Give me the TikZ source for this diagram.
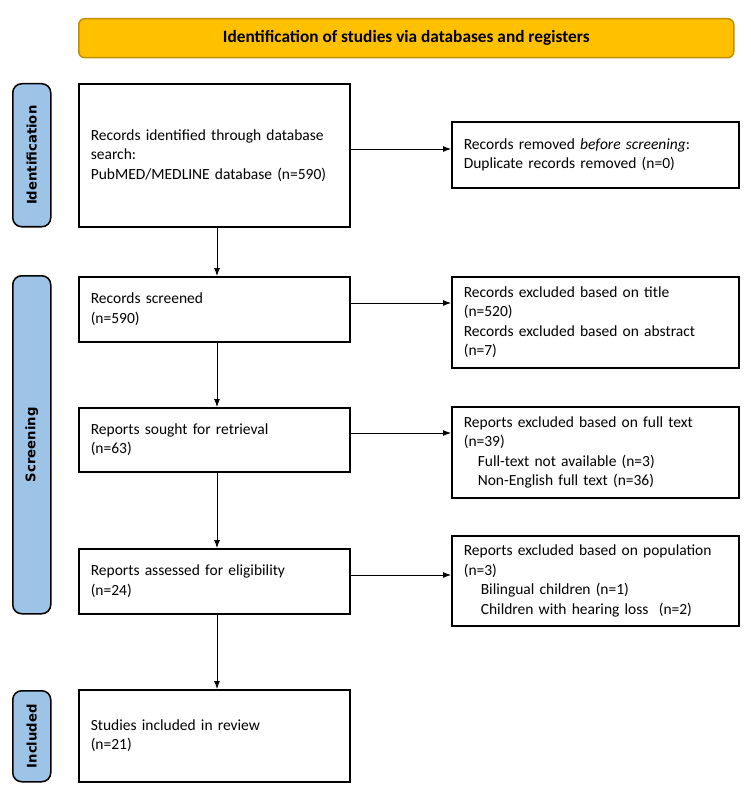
\documentclass[tikz,border=0pt]{standalone}
\usepackage{fontspec}
\setmainfont{Carlito}
\newfontfamily\labelfont{DejaVu Sans}
\usetikzlibrary{arrows.meta,calc}
\definecolor{bannerfill}{HTML}{FFC000}
\definecolor{bannerline}{HTML}{BF9000}
\definecolor{sidefill}{HTML}{9DC3E6}
\begin{document}
\begin{tikzpicture}[x=1pt,y=-1pt,
  box/.style={draw=black, line width=1.6pt, fill=white, anchor=north west,
    inner xsep=12pt, inner ysep=0pt, align=left,
    font=\fontsize{15.5}{19.5}\selectfont},
  side/.style={draw=black, line width=1.5pt, fill=sidefill, rounded corners=9pt,
    anchor=north west, inner sep=0pt, minimum width=38pt},
  sidetext/.style={rotate=90, font=\labelfont\bfseries\fontsize{13.2}{15}\selectfont},
  arr/.style={-{Latex[length=8pt,width=6pt]}, line width=0.9pt}
]
\useasboundingbox (0,0) rectangle (750,810);
\fill[white] (0,0) rectangle (750,810);

\node[draw=bannerline, line width=1.5pt, fill=bannerfill, rounded corners=6pt,
  anchor=north west, minimum width=655pt, minimum height=39pt, inner sep=0pt,
  font=\bfseries\fontsize{17.3}{20}\selectfont] (banner) at (78,18)
  {Identification of studies via databases and registers};

\node[side, minimum height=143pt] (sid) at (12,83) {};
\node[sidetext] (tid) at (sid.center) {Identification};
\node[side, minimum height=338pt] (ssc) at (12,275) {};
\node[sidetext] (tsc) at (ssc.center) {Screening};
\node[side, minimum height=91pt] (sin) at (12,690) {};
\node[sidetext] (tin) at (sin.center) {Included};

\node[box, text width=247pt, minimum height=143pt] (b1) at (78,83)
  {Records identified through database\\search:\\PubMED/MEDLINE database (n=590)};
\node[box, text width=263pt, minimum height=66pt] (r1) at (451,121)
  {Records removed \textit{before screening}:\\Duplicate records removed (n=0)};

\node[box, text width=247pt, minimum height=65pt] (b2) at (78,276)
  {Records screened\\(n=590)};
\node[box, text width=263pt, minimum height=91pt] (r2) at (451,276)
  {Records excluded based on title\\(n=520)\\Records excluded based on abstract\\(n=7)};

\node[box, text width=247pt, minimum height=64pt] (b3) at (78,407)
  {Reports sought for retrieval\\(n=63)};
\node[box, text width=263pt, minimum height=91pt] (r3) at (451,406)
  {Reports excluded based on full text\\(n=39)\\\hspace*{14pt}Full-text not available (n=3)\\\hspace*{14pt}Non-English full text (n=36)};

\node[box, text width=247pt, minimum height=65pt] (b4) at (78,548)
  {Reports assessed for eligibility\\(n=24)};
\node[box, text width=263pt, minimum height=90pt] (r4) at (451,535)
  {Reports excluded based on population\\(n=3)\\\hspace*{17pt}Bilingual children (n=1)\\\hspace*{17pt}Children with hearing loss\ \ (n=2)};

\node[box, text width=247pt, minimum height=92pt] (b5) at (78,689)
  {Studies included in review\\(n=21)};

\draw[arr] (b1.east |- 0,149) -- (r1.west |- 0,149);
\draw[arr] (b2.east |- 0,303) -- (r2.west |- 0,303);
\draw[arr] (b3.east |- 0,433) -- (r3.west |- 0,433);
\draw[arr] (b4.east |- 0,575) -- (r4.west |- 0,575);

\draw[arr] (b1.south -| 217,0) -- (b2.north -| 217,0);
\draw[arr] (b2.south -| 217,0) -- (b3.north -| 217,0);
\draw[arr] (b3.south -| 217,0) -- (b4.north -| 217,0);
\draw[arr] (b4.south -| 217,0) -- (b5.north -| 217,0);
\end{tikzpicture}
\end{document}
